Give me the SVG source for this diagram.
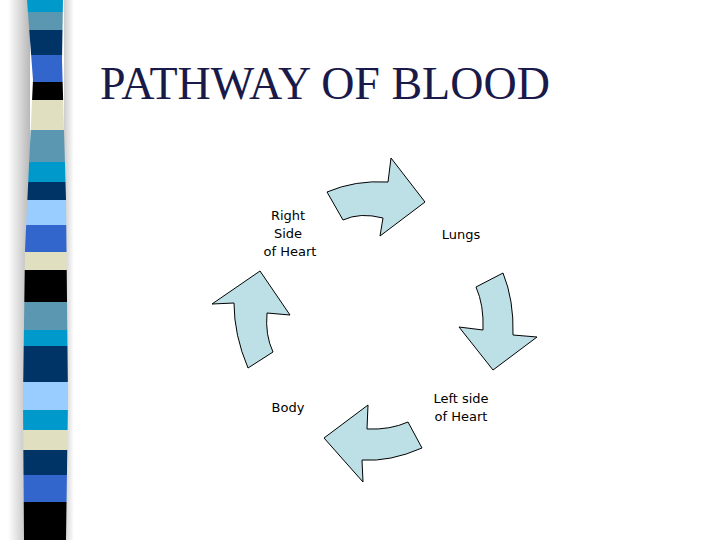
<svg xmlns="http://www.w3.org/2000/svg" width="720" height="540" viewBox="0 0 720 540">
<defs>
<style>
.a{fill:#bde0e6;stroke:#000;stroke-width:1}
.t{font-family:"DejaVu Sans",sans-serif;font-size:13px;fill:#000;text-anchor:middle}
</style>
<clipPath id="sc"><path d="M27,0 L63,0 L62,60 L66,200 L68,400 L66,540 L24,540 L23,400 L25,250 L33,80 Z"/></clipPath>
<linearGradient id="sh" x1="0" x2="1"><stop offset="0" stop-color="#fff"/><stop offset="1" stop-color="#888"/></linearGradient>
<linearGradient id="sh2" x1="0" x2="1"><stop offset="0" stop-color="#999"/><stop offset="1" stop-color="#fff"/></linearGradient>
</defs>
<rect width="720" height="540" fill="#fff"/>
<rect x="8" y="0" width="22" height="540" fill="url(#sh)" opacity="0.6"/>
<rect x="64" y="0" width="10" height="540" fill="url(#sh2)" opacity="0.5"/>
<g clip-path="url(#sc)">
<rect x="20" y="0" width="50" height="12" fill="#0099cc"/>
<rect x="20" y="12" width="50" height="18" fill="#5b97b1"/>
<rect x="20" y="30" width="50" height="25" fill="#003366"/>
<rect x="20" y="55" width="50" height="27" fill="#3366cc"/>
<rect x="20" y="82" width="50" height="18" fill="#000"/>
<rect x="20" y="100" width="50" height="30" fill="#e0e0c0"/>
<rect x="20" y="130" width="50" height="32" fill="#5b97b1"/>
<rect x="20" y="162" width="50" height="20" fill="#0099cc"/>
<rect x="20" y="182" width="50" height="18" fill="#003366"/>
<rect x="20" y="200" width="50" height="25" fill="#99ccff"/>
<rect x="20" y="225" width="50" height="27" fill="#3366cc"/>
<rect x="20" y="252" width="50" height="18" fill="#e0e0c0"/>
<rect x="20" y="270" width="50" height="32" fill="#000"/>
<rect x="20" y="302" width="50" height="28" fill="#5b97b1"/>
<rect x="20" y="330" width="50" height="16" fill="#0099cc"/>
<rect x="20" y="346" width="50" height="36" fill="#003366"/>
<rect x="20" y="382" width="50" height="28" fill="#99ccff"/>
<rect x="20" y="410" width="50" height="20" fill="#0099cc"/>
<rect x="20" y="430" width="50" height="20" fill="#e0e0c0"/>
<rect x="20" y="450" width="50" height="25" fill="#003366"/>
<rect x="20" y="475" width="50" height="27" fill="#3366cc"/>
<rect x="20" y="502" width="50" height="38" fill="#000"/>
</g>
<text x="100" y="99" font-family="Liberation Serif,serif" font-size="46" fill="#1a1a4a">PATHWAY OF BLOOD</text>
<g id="connectors">
<path class="a" d="M327,192 Q355,180 388,182 L391,158 L425,202 L380,236 L383,218 Q360,212 343,220 Z"/>
<path class="a" d="M476,287 L503,273 Q514,300 513,335 L537,337 L493,370 L459,327 L483,330 Q484,305 476,287 Z"/>
<path class="a" d="M408,422 L422,448 Q390,462 362,460 L363,482 L324,438 L368,405 L367,429 Q390,430 408,422 Z"/>
<path class="a" d="M273,352 L248,368 Q234,335 234,303 L212,304 L260,271 L290,315 L267,313 Q265,335 273,352 Z"/>
</g>
<g id="right-heart"><text class="t" x="288" y="220">Right</text><text class="t" x="288" y="238">Side</text><text class="t" x="290" y="256">of Heart</text></g>
<g id="lungs"><text class="t" x="461" y="239">Lungs</text></g>
<g id="left-heart"><text class="t" x="461" y="403">Left side</text><text class="t" x="461" y="421">of Heart</text></g>
<g id="body"><text class="t" x="288" y="412">Body</text></g>
</svg>
